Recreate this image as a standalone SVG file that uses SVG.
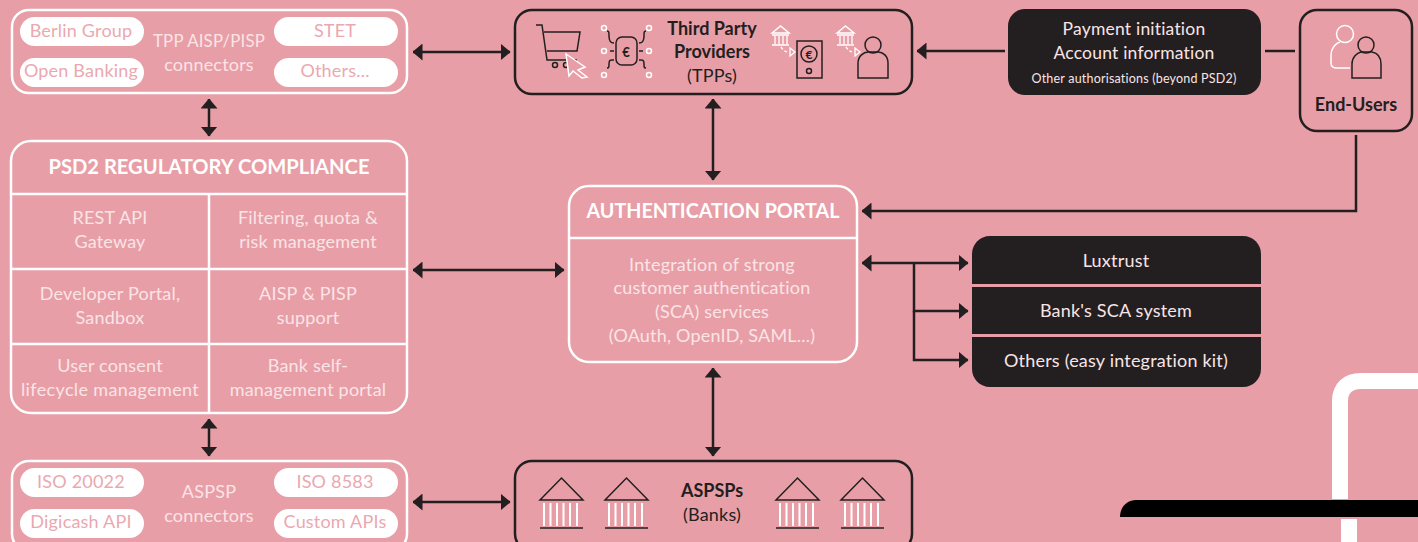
<svg xmlns="http://www.w3.org/2000/svg" width="1418" height="542" viewBox="0 0 1418 542">
<defs>
<marker id="ah" viewBox="0 0 10 17" refX="9.500" refY="8.500" markerWidth="10" markerHeight="17" markerUnits="userSpaceOnUse" orient="auto-start-reverse"><path d="M0 0L10 8.500L0 17Z" fill="#231f20"/></marker>
<g id="bank"><path d="M1 23L22.500 1L44 23Z" fill="none" stroke="#231f20" stroke-width="1.500"/><path d="M5 26V49M11.500 26V49M18 26V49M24.500 26V49M31 26V49M38 26V49" stroke="#fff" stroke-width="2" fill="none"/><path d="M1 51H44" stroke="#231f20" stroke-width="1.500"/></g>
<g id="wbank"><path d="M1 8L9.500 1L18 8Z" fill="none" stroke="#fff" stroke-width="1.500"/><path d="M1 10H18M1 20H18" stroke="#fff" stroke-width="1.500"/><path d="M4 11V19M8 11V19M12 11V19M16 11V19" stroke="#fff" stroke-width="1.300"/><path d="M10 22C13 26 14 27 18 27" fill="none" stroke="#fff" stroke-width="1.300" stroke-dasharray="3 2"/><path d="M19 23L24 27L19 31Z" fill="none" stroke="#fff" stroke-width="1.300"/></g>
</defs>
<style>
text{font-family:"Lato","Noto Sans",sans-serif;text-anchor:middle;font-weight:400;letter-spacing:.2px}
.w{fill:#fae4e6;font-size:18px}
.p{fill:#eba8af;font-size:18px}
.d{fill:#231f20;font-size:18px}
text.b{font-weight:700;letter-spacing:0}
.wb{fill:none;stroke:#fff;stroke-width:2.500}
.db{fill:none;stroke:#231f20;stroke-width:2.500}
.pill{fill:#fff}
.dark{fill:#231f20}
.con{fill:none;stroke:#231f20;stroke-width:2.500}
.arr{marker-start:url(#ah);marker-end:url(#ah)}
.one{marker-end:url(#ah)}
.ic{fill:none;stroke:#231f20;stroke-width:1.500}
.iw{fill:none;stroke:#fff;stroke-width:1.500}
</style>
<rect width="1418" height="542" fill="#e89ea6"/>
<g id="connectors">
<path class="con arr" d="M413 52H510"/>
<path class="con arr" d="M209 99V136"/>
<path class="con arr" d="M209 419V456"/>
<path class="con arr" d="M413 270H564"/>
<path class="con arr" d="M413 502H510"/>
<path class="con arr" d="M713 99V180"/>
<path class="con arr" d="M713 368V456"/>
<path class="con one" d="M1005 51H917"/>
<path class="con" d="M1265 51H1295"/>
<path class="con one" d="M1356 135V211H862"/>
<path class="con arr" d="M862 263H968"/>
<path class="con one" d="M914 263V311H968"/>
<path class="con one" d="M914 311V360H968"/>
</g>
<g id="tpp-connectors">
<rect class="wb" x="12" y="10" width="395" height="83" rx="17"/>
<rect class="pill" x="20" y="17" width="124" height="29" rx="14.500"/><text class="p" x="81" y="37">Berlin Group</text>
<rect class="pill" x="20" y="58" width="124" height="29" rx="14.500"/><text class="p" x="81" y="77">Open Banking</text>
<rect class="pill" x="274" y="17" width="124" height="29" rx="14.500"/><text class="p" x="335" y="37">STET</text>
<rect class="pill" x="274" y="58" width="124" height="29" rx="14.500"/><text class="p" x="335" y="77">Others...</text>
<text class="w" x="209" y="47" textLength="112" lengthAdjust="spacingAndGlyphs">TPP AISP/PISP</text>
<text class="w" x="209" y="71">connectors</text>
</g>
<g id="psd2">
<rect class="wb" x="11" y="141" width="396" height="272" rx="20"/>
<path class="wb" d="M11 194H407M11 269H407M11 344H407M209 194V413"/>
<text class="w b" x="209" y="174" style="font-size:20.500px;fill:#fff" textLength="321" lengthAdjust="spacingAndGlyphs">PSD2 REGULATORY COMPLIANCE</text>
<text class="w" x="110" y="224">REST API</text><text class="w" x="110" y="248">Gateway</text>
<text class="w" x="308" y="224">Filtering, quota &amp;</text><text class="w" x="308" y="248">risk management</text>
<text class="w" x="110" y="300">Developer Portal,</text><text class="w" x="110" y="324">Sandbox</text>
<text class="w" x="308" y="300">AISP &amp; PISP</text><text class="w" x="308" y="324">support</text>
<text class="w" x="110" y="372">User consent</text><text class="w" x="110" y="396" textLength="178" lengthAdjust="spacing">lifecycle management</text>
<text class="w" x="308" y="372">Bank self-</text><text class="w" x="308" y="396">management portal</text>
</g>
<g id="aspsp-connectors">
<rect class="wb" x="12" y="461" width="395" height="90" rx="17"/>
<rect class="pill" x="20" y="468" width="124" height="29" rx="14.500"/><text class="p" x="81" y="488">ISO 20022</text>
<rect class="pill" x="20" y="509" width="124" height="29" rx="14.500"/><text class="p" x="81" y="528">Digicash API</text>
<rect class="pill" x="274" y="468" width="124" height="29" rx="14.500"/><text class="p" x="335" y="488">ISO 8583</text>
<rect class="pill" x="274" y="509" width="124" height="29" rx="14.500"/><text class="p" x="335" y="528">Custom APIs</text>
<text class="w" x="209" y="498">ASPSP</text>
<text class="w" x="209" y="522">connectors</text>
</g>
<g id="tpps">
<rect class="db" x="515" y="10" width="397" height="84" rx="17"/>
<text class="d b" x="712" y="35">Third Party</text>
<text class="d b" x="712" y="58">Providers</text>
<text class="d" x="712" y="82">(TPPs)</text>
<path class="ic" d="M536 25H542L547 60H577M544 32H580L577 51H547"/><circle class="ic" cx="555" cy="65" r="2.500"/><circle class="ic" cx="566" cy="65" r="2.500"/>
<path d="M566 54L585 67L578 70L587 77L582 78L573 71L569 76Z" fill="#e89ea6" stroke="#fff" stroke-width="1.500"/>
<rect class="ic" x="616" y="37" width="21" height="28" rx="6"/>
<text class="d b" x="626" y="57" style="font-size:13px">€</text>
<path class="ic" d="M607 31C609 31 609 32 609 36C609 42 611 43 614 43M646 31C644 31 644 32 644 36C644 42 642 43 639 43M607 68C609 68 609 67 609 64C609 59 611 60 614 60M646 68C644 68 644 67 644 64C644 59 642 60 639 60M610 51H614M639 51H643"/>
<g class="iw"><circle cx="604" cy="28" r="2.500"/><circle cx="649" cy="28" r="2.500"/><circle cx="604" cy="51" r="2.500"/><circle cx="649" cy="51" r="2.500"/><circle cx="604" cy="75" r="2.500"/><circle cx="649" cy="75" r="2.500"/></g>
<use href="#wbank" x="771" y="25"/>
<rect class="ic" x="797" y="41" width="25" height="37"/><circle class="ic" cx="809" cy="54" r="8"/><text class="d b" x="809" y="59" style="font-size:12px">€</text><circle class="ic" cx="809" cy="71" r="2.500"/>
<use href="#wbank" x="836" y="25"/>
<circle class="ic" cx="873" cy="45" r="8"/><path class="ic" d="M858 78V63C858 56 864 52 868 52H878C883 52 888 56 888 63V78Z"/>
</g>
<g id="payment">
<rect class="dark" x="1008" y="9" width="253" height="86" rx="17"/>
<text class="w" x="1134" y="35" style="font-size:17.500px">Payment initiation</text>
<text class="w" x="1134" y="59" style="font-size:17.500px">Account information</text>
<text class="w" x="1134" y="83" style="font-size:12.500px">Other authorisations (beyond PSD2)</text>
</g>
<g id="end-users">
<rect class="db" x="1300" y="10" width="112" height="121" rx="17"/>
<circle class="iw" cx="1345" cy="34" r="8.500"/><path class="iw" d="M1350 68H1337C1333 68 1331 67 1331 63V55C1331 48 1336 43 1340 42"/>
<circle class="ic" cx="1366" cy="45" r="8"/><path class="ic" d="M1352 78V64C1352 57 1357 53 1361 52H1372C1377 53 1381 57 1381 64V78Z"/>
<text class="d b" x="1356" y="111">End-Users</text>
</g>
<g id="auth-portal">
<rect class="wb" x="569" y="186" width="288" height="176" rx="20"/>
<path class="wb" d="M569 238H857"/>
<text class="w b" x="713" y="218" style="font-size:20.500px;fill:#fff" textLength="253" lengthAdjust="spacingAndGlyphs">AUTHENTICATION PORTAL</text>
<text class="w" x="712" y="271">Integration of strong</text>
<text class="w" x="712" y="294">customer authentication</text>
<text class="w" x="712" y="318">(SCA) services</text>
<text class="w" x="712" y="342">(OAuth, OpenID, SAML...)</text>
</g>
<g id="sca">
<path class="dark" d="M972 284V254C972 244 980 236 990 236H1243C1253 236 1261 244 1261 254V284Z"/>
<rect class="dark" x="972" y="287" width="289" height="47"/>
<path class="dark" d="M972 337H1261V369C1261 379 1253 387 1243 387H990C980 387 972 379 972 369Z"/>
<text class="w" x="1116" y="267">Luxtrust</text>
<text class="w" x="1116" y="317">Bank's SCA system</text>
<text class="w" x="1116" y="367">Others (easy integration kit)</text>
</g>
<g id="aspsps">
<rect class="db" x="515" y="461" width="397" height="90" rx="17"/>
<use href="#bank" x="539" y="477"/><use href="#bank" x="604" y="477"/><use href="#bank" x="775" y="477"/><use href="#bank" x="840" y="477"/>
<text class="d b" x="712" y="497">ASPSPs</text>
<text class="d" x="712" y="521">(Banks)</text>
</g>
<path d="M1340 499V401C1340 388 1348 381 1361 381H1418" fill="none" stroke="#fff" stroke-width="16"/>
<path d="M1341 519H1357V542H1341Z" fill="#fff"/>
<path d="M1120 517C1120 507 1127 500 1136 500H1418V517Z" fill="#000"/>
</svg>
